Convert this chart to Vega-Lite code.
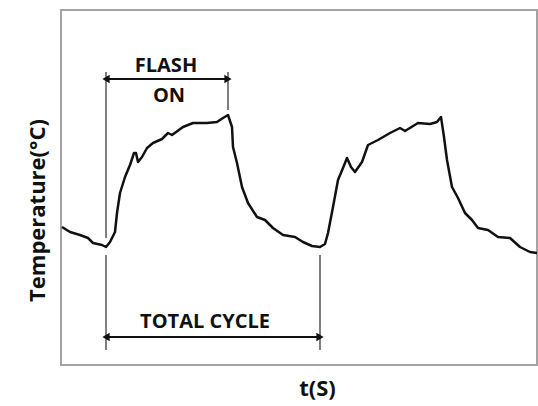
{
  "$schema": "https://vega.github.io/schema/vega-lite/v6.json",
  "autosize": "none",
  "width": 476,
  "height": 355,
  "padding": {"left": 61, "top": 10, "right": 1, "bottom": 41},
  "background": "white",
  "config": {
    "view": {"stroke": "#a3a3a3", "strokeWidth": 2},
    "font": "Open Sans"
  },
  "datasets": {
    "curve": [
      {"t": 1, "T": 138}, {"t": 9, "T": 133}, {"t": 19, "T": 130}, {"t": 27, "T": 127},
      {"t": 32, "T": 122}, {"t": 41, "T": 120}, {"t": 45, "T": 118}, {"t": 49, "T": 123},
      {"t": 54, "T": 133}, {"t": 56, "T": 152}, {"t": 59, "T": 172}, {"t": 64, "T": 188},
      {"t": 69, "T": 200}, {"t": 73, "T": 212}, {"t": 75, "T": 212}, {"t": 77, "T": 203},
      {"t": 81, "T": 208}, {"t": 86, "T": 217}, {"t": 92, "T": 222}, {"t": 101, "T": 226},
      {"t": 107, "T": 232}, {"t": 111, "T": 230}, {"t": 122, "T": 238}, {"t": 132, "T": 242},
      {"t": 146, "T": 242}, {"t": 156, "T": 243}, {"t": 162, "T": 247}, {"t": 167, "T": 250},
      {"t": 171, "T": 238}, {"t": 172, "T": 218}, {"t": 176, "T": 202}, {"t": 181, "T": 178},
      {"t": 187, "T": 162}, {"t": 196, "T": 148}, {"t": 204, "T": 145}, {"t": 212, "T": 137},
      {"t": 222, "T": 130}, {"t": 234, "T": 128}, {"t": 242, "T": 123}, {"t": 251, "T": 119},
      {"t": 259, "T": 118}, {"t": 264, "T": 121}, {"t": 267, "T": 132}, {"t": 272, "T": 158},
      {"t": 277, "T": 185}, {"t": 282, "T": 197}, {"t": 286, "T": 207}, {"t": 290, "T": 198},
      {"t": 294, "T": 193}, {"t": 301, "T": 203}, {"t": 307, "T": 220}, {"t": 317, "T": 225},
      {"t": 329, "T": 232}, {"t": 339, "T": 237}, {"t": 344, "T": 234}, {"t": 357, "T": 242},
      {"t": 369, "T": 241}, {"t": 376, "T": 243}, {"t": 380, "T": 248}, {"t": 383, "T": 228},
      {"t": 386, "T": 205}, {"t": 391, "T": 178}, {"t": 397, "T": 167}, {"t": 404, "T": 152},
      {"t": 411, "T": 145}, {"t": 417, "T": 137}, {"t": 427, "T": 135}, {"t": 437, "T": 128},
      {"t": 449, "T": 127}, {"t": 459, "T": 118}, {"t": 469, "T": 113}, {"t": 476, "T": 112}
    ],
    "guides": [
      {"t": 45, "T1": 293, "T2": 127},
      {"t": 45, "T1": 110, "T2": 15},
      {"t": 167, "T1": 293, "T2": 255},
      {"t": 259, "T1": 110, "T2": 15}
    ],
    "arrows": [
      {"t1": 45, "t2": 167, "T": 286},
      {"t1": 45, "t2": 259, "T": 28}
    ],
    "heads": [
      {"t": 45, "T": 286, "dir": "left"},
      {"t": 167, "T": 286, "dir": "right"},
      {"t": 45, "T": 28, "dir": "left"},
      {"t": 259, "T": 28, "dir": "right"}
    ],
    "labels": [
      {"t": 105, "T": 293, "text": "FLASH"},
      {"t": 108, "T": 263, "text": "ON"},
      {"t": 144, "T": 37, "text": "TOTAL CYCLE"}
    ]
  },
  "encoding": {
    "x": {
      "type": "quantitative",
      "scale": {"domain": [0, 476], "nice": false, "zero": false},
      "axis": {
        "title": "t(S)", "labels": false, "ticks": false, "domain": false, "grid": false,
        "titleFont": "Open Sans", "titleFontWeight": "bold", "titleFontSize": 22, "titleColor": "#111",
        "titleX": 256, "titleY": 23, "titleBaseline": "middle", "titleAlign": "center"
      }
    },
    "y": {
      "type": "quantitative",
      "scale": {"domain": [0, 355], "nice": false, "zero": false},
      "axis": {
        "title": "Temperature(°C)", "labels": false, "ticks": false, "domain": false, "grid": false,
        "titleFont": "Open Sans", "titleFontWeight": "bold", "titleFontSize": 22, "titleColor": "#111",
        "titleX": -24, "titleY": 200, "titleBaseline": "middle", "titleAlign": "center", "titleAngle": -90
      }
    }
  },
  "layer": [
    {
      "data": {"name": "guides"},
      "mark": {"type": "rule", "color": "#555", "strokeWidth": 1.5},
      "encoding": {
        "x": {"field": "t", "type": "quantitative"},
        "y": {"field": "T1", "type": "quantitative"},
        "y2": {"field": "T2"}
      }
    },
    {
      "data": {"name": "arrows"},
      "mark": {"type": "rule", "color": "#111", "strokeWidth": 2},
      "encoding": {
        "x": {"field": "t1", "type": "quantitative"},
        "x2": {"field": "t2"},
        "y": {"field": "T", "type": "quantitative"}
      }
    },
    {
      "data": {"name": "heads"},
      "mark": {"type": "point", "filled": true, "color": "#111", "size": 70, "opacity": 1},
      "encoding": {
        "x": {"field": "t", "type": "quantitative"},
        "y": {"field": "T", "type": "quantitative"},
        "shape": {"field": "dir", "type": "nominal", "scale": {"domain": ["left", "right"], "range": ["triangle-left", "triangle-right"]}, "legend": null},
        "xOffset": {"field": "dir", "type": "nominal", "scale": {"domain": ["left", "right"], "range": [5, -5]}}
      }
    },
    {
      "data": {"name": "curve"},
      "mark": {"type": "line", "color": "#111", "strokeWidth": 2.5, "strokeJoin": "round"},
      "encoding": {
        "x": {"field": "t", "type": "quantitative"},
        "y": {"field": "T", "type": "quantitative"}
      }
    },
    {
      "data": {"name": "labels"},
      "mark": {"type": "text", "font": "Open Sans", "fontWeight": "bold", "fontSize": 20, "color": "#111", "align": "center", "baseline": "alphabetic"},
      "encoding": {
        "x": {"field": "t", "type": "quantitative"},
        "y": {"field": "T", "type": "quantitative"},
        "text": {"field": "text"}
      }
    }
  ]
}
